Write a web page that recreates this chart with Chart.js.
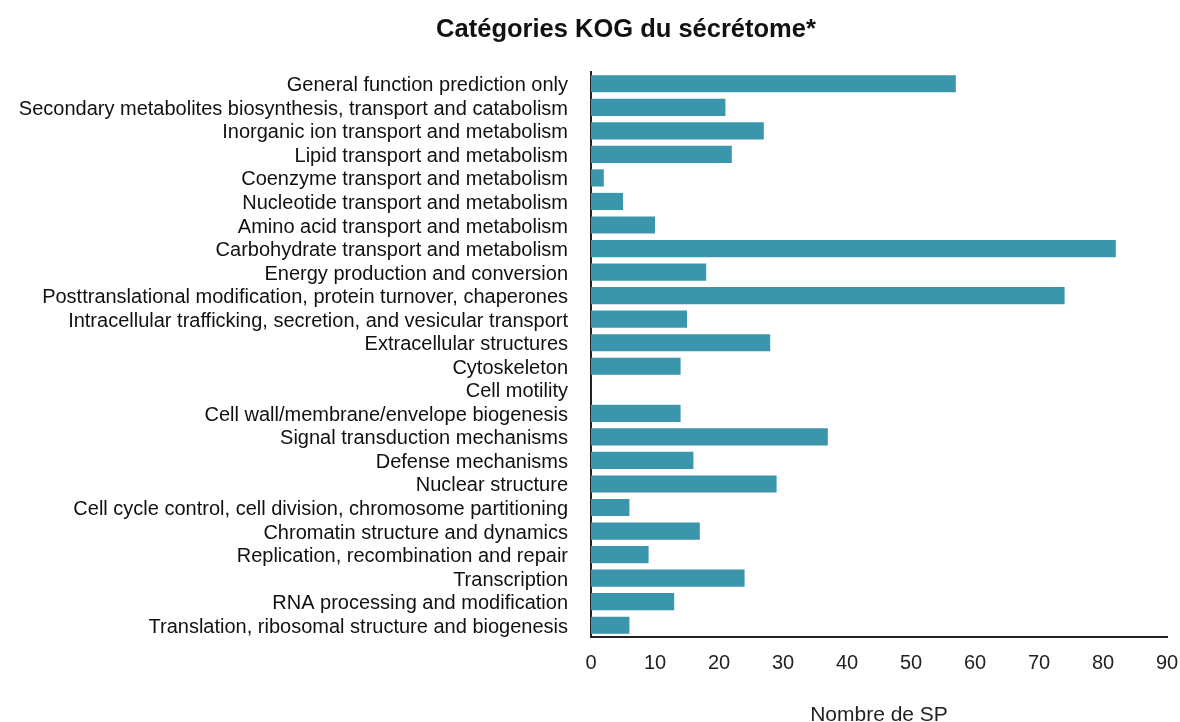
<!DOCTYPE html>
<html>
<head>
<meta charset="utf-8">
<script src="https://cdn.jsdelivr.net/npm/chart.js@4.4.0/dist/chart.umd.min.js"></script>
<style>
  html, body { margin: 0; padding: 0; background: #fff; }
  #wrap { width: 1180px; height: 722px; position: relative; }
</style>
</head>
<body>
<div id="wrap"><canvas id="kogChart" width="1180" height="722"></canvas></div>
<script>
// KOG categories, top to bottom
const categories = [
  "General function prediction only",
  "Secondary metabolites biosynthesis, transport and catabolism",
  "Inorganic ion transport and metabolism",
  "Lipid transport and metabolism",
  "Coenzyme transport and metabolism",
  "Nucleotide transport and metabolism",
  "Amino acid transport and metabolism",
  "Carbohydrate transport and metabolism",
  "Energy production and conversion",
  "Posttranslational modification, protein turnover, chaperones",
  "Intracellular trafficking, secretion, and vesicular transport",
  "Extracellular structures",
  "Cytoskeleton",
  "Cell motility",
  "Cell wall/membrane/envelope biogenesis",
  "Signal transduction mechanisms",
  "Defense mechanisms",
  "Nuclear structure",
  "Cell cycle control, cell division, chromosome partitioning",
  "Chromatin structure and dynamics",
  "Replication, recombination and repair",
  "Transcription",
  "RNA processing and modification",
  "Translation, ribosomal structure and biogenesis"
];

// number of secreted proteins per category
const spCounts = [57, 21, 27, 22, 2, 5, 10, 82, 18, 74, 15, 28, 14, 0, 14, 37, 16, 29, 6, 17, 9, 24, 13, 6];

const xTicks = [0, 10, 20, 30, 40, 50, 60, 70, 80, 90];

const chartTitle = "Catégories KOG du sécrétome*";
const xAxisTitle = "Nombre de SP";

const FONT = "'Liberation Sans', Arial, Helvetica, sans-serif";

// title drawn a bit right of the canvas centre
const titlePlugin = {
  id: "offsetTitle",
  afterDraw(chart) {
    const ctx = chart.ctx;
    ctx.save();
    ctx.font = "bold 25.5px " + FONT;
    ctx.fillStyle = "#111";
    ctx.textAlign = "center";
    ctx.textBaseline = "middle";
    ctx.fillText(chartTitle, 626, 30);
    ctx.restore();
  }
};

new Chart(document.getElementById("kogChart"), {
  type: "bar",
  data: {
    labels: categories,
    datasets: [{
      data: spCounts,
      backgroundColor: "#3b96ab",
      borderWidth: 0,
      barPercentage: 0.73,
      categoryPercentage: 1.0
    }]
  },
  options: {
    indexAxis: "y",
    responsive: false,
    animation: false,
    layout: { padding: { top: 72, right: 0, bottom: 0, left: 0 } },
    plugins: {
      legend: { display: false },
      tooltip: { enabled: false }
    },
    scales: {
      x: {
        min: 0,
        max: 90,
        afterBuildTicks(scale) {
          scale.ticks = xTicks.map(v => ({ value: v }));
        },
        afterFit(scale) {
          scale.height = 85;
          scale.paddingRight = 13;
        },
        grid: { display: false, drawTicks: false },
        border: { display: true, color: "#222", width: 2 },
        ticks: {
          color: "#222",
          font: { family: FONT, size: 20 },
          padding: 14
        },
        title: {
          display: true,
          text: xAxisTitle,
          color: "#222",
          font: { family: FONT, size: 21 },
          padding: { top: 0, bottom: -6 }
        }
      },
      y: {
        afterFit(scale) { scale.width = 591; },
        grid: { display: false, drawTicks: false },
        border: { display: true, color: "#222", width: 2 },
        ticks: {
          color: "#111",
          font: { family: FONT, size: 20 },
          padding: 23,
          labelOffset: 2,
          autoSkip: false
        }
      }
    }
  },
  plugins: [titlePlugin]
});
</script>
</body>
</html>
